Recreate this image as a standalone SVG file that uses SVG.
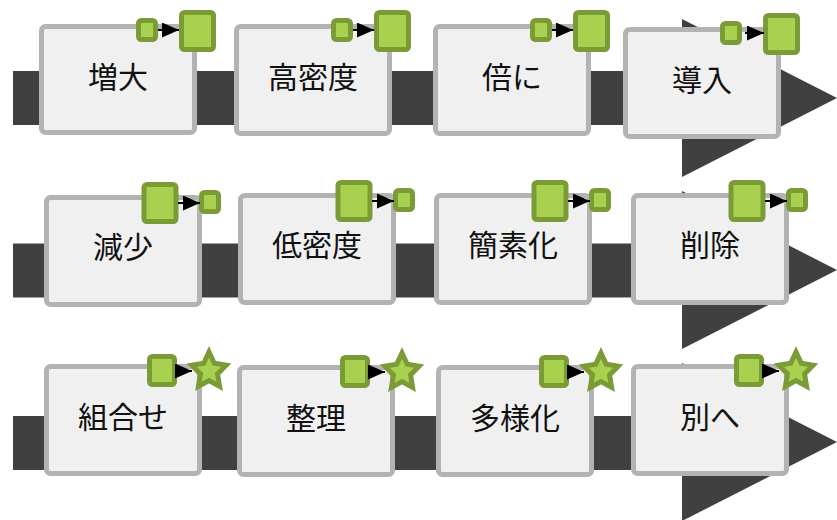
<svg xmlns="http://www.w3.org/2000/svg" width="837" height="520" viewBox="0 0 837 520">
<style>
.band{fill:#404040}
.box{fill:#f0f0f0;stroke:#b3b3b3;stroke-width:5}
.sq{fill:#a8d150;stroke:#7a9b36;stroke-width:5}
.star{fill:#a8d150;stroke:#7a9b36;stroke-width:5;stroke-linejoin:miter}
.lbl{font-family:"Noto Sans CJK JP","Noto Sans CJK SC",sans-serif;font-size:30px;fill:#111;text-anchor:middle}
.conn{stroke:#000;stroke-width:2;fill:none;marker-end:url(#ah)}
</style>
<defs>
<marker id="ah" markerUnits="userSpaceOnUse" viewBox="0 0 17 15" markerWidth="17" markerHeight="15" refX="17" refY="7.5" orient="auto">
<path d="M0,0 L17,7.5 L0,15 Z" fill="#000"/>
</marker>
<path id="starp" d="M0,-19 L5.29,-7.69 L17.12,-5.87 L8.56,2.94 L10.58,15.37 L0,9.5 L-10.58,15.37 L-8.56,2.94 L-17.12,-5.87 L-5.29,-7.69 Z"/>
</defs>
<g id="background">
<rect class="band" x="13" y="71" width="672" height="54"/>
<rect class="band" x="13" y="243.5" width="672" height="54"/>
<rect class="band" x="13" y="416" width="672" height="54"/>
<polygon class="band" points="682,19 837,98 682,177"/>
<polygon class="band" points="682,191 837,270 682,349"/>
<polygon class="band" points="682,363 837,442 682,521"/>
</g>
<g id="n1" transform="translate(39,24)"><rect class="box" x="2.5" y="2.5" width="153" height="106" rx="4"/><text class="lbl" x="79" y="64">増大</text><rect class="sq" x="99.5" y="-3.5" width="17" height="19" rx="3"/><rect class="sq" x="142.5" y="-11.5" width="32" height="37" rx="3"/></g>
<g id="n2" transform="translate(234,24)"><rect class="box" x="2.5" y="2.5" width="153" height="107" rx="4"/><text class="lbl" x="79" y="64">高密度</text><rect class="sq" x="99.5" y="-3.5" width="17" height="19" rx="3"/><rect class="sq" x="142.5" y="-11.5" width="32" height="37" rx="3"/></g>
<g id="n3" transform="translate(433,24)"><rect class="box" x="2.5" y="2.5" width="153" height="107" rx="4"/><text class="lbl" x="79" y="64">倍に</text><rect class="sq" x="99.5" y="-3.5" width="17" height="19" rx="3"/><rect class="sq" x="142.5" y="-11.5" width="32" height="37" rx="3"/></g>
<g id="n4" transform="translate(623,27)"><rect class="box" x="2.5" y="2.5" width="153" height="107" rx="4"/><text class="lbl" x="79" y="64">導入</text><rect class="sq" x="99.5" y="-3.5" width="17" height="19" rx="3"/><rect class="sq" x="142.5" y="-11.5" width="32" height="37" rx="3"/></g>
<g id="n5" transform="translate(44,195)"><rect class="box" x="2.5" y="2.5" width="153" height="107" rx="4"/><text class="lbl" x="79" y="63">減少</text><rect class="sq" x="100" y="-10.5" width="32" height="37" rx="3"/><rect class="sq" x="157.5" y="-2.5" width="17" height="19" rx="3"/></g>
<g id="n6" transform="translate(238,193)"><rect class="box" x="2.5" y="2.5" width="153" height="107" rx="4"/><text class="lbl" x="79" y="63">低密度</text><rect class="sq" x="100" y="-10.5" width="32" height="37" rx="3"/><rect class="sq" x="157.5" y="-2.5" width="17" height="19" rx="3"/></g>
<g id="n7" transform="translate(434,193)"><rect class="box" x="2.5" y="2.5" width="153" height="107" rx="4"/><text class="lbl" x="79" y="63">簡素化</text><rect class="sq" x="100" y="-10.5" width="32" height="37" rx="3"/><rect class="sq" x="157.5" y="-2.5" width="17" height="19" rx="3"/></g>
<g id="n8" transform="translate(631,193)"><rect class="box" x="2.5" y="2.5" width="153" height="107" rx="4"/><text class="lbl" x="79" y="63">削除</text><rect class="sq" x="100" y="-10.5" width="32" height="37" rx="3"/><rect class="sq" x="157.5" y="-2.5" width="17" height="19" rx="3"/></g>
<g id="n9" transform="translate(44,364)"><rect class="box" x="2.5" y="2.5" width="153" height="107" rx="4"/><text class="lbl" x="79" y="64">組合せ</text><rect class="sq" x="105.5" y="-7.5" width="25" height="28" rx="3"/><use href="#starp" class="star" x="165" y="7"/></g>
<g id="n10" transform="translate(237,365)"><rect class="box" x="2.5" y="2.5" width="153" height="107" rx="4"/><text class="lbl" x="79" y="64">整理</text><rect class="sq" x="105.5" y="-7.5" width="25" height="28" rx="3"/><use href="#starp" class="star" x="165" y="7"/></g>
<g id="n11" transform="translate(436,365)"><rect class="box" x="2.5" y="2.5" width="153" height="107" rx="4"/><text class="lbl" x="79" y="64">多様化</text><rect class="sq" x="105.5" y="-7.5" width="25" height="28" rx="3"/><use href="#starp" class="star" x="165" y="7"/></g>
<g id="n12" transform="translate(631,364)"><rect class="box" x="2.5" y="2.5" width="153" height="107" rx="4"/><text class="lbl" x="79" y="64">別へ</text><rect class="sq" x="105.5" y="-7.5" width="25" height="28" rx="3"/><use href="#starp" class="star" x="165" y="7"/></g>
<g id="connectors">
<line class="conn" x1="158" y1="30" x2="179" y2="30"/>
<line class="conn" x1="353" y1="30" x2="374" y2="30"/>
<line class="conn" x1="552" y1="30" x2="573" y2="30"/>
<line class="conn" x1="745" y1="33" x2="764" y2="33"/>
<line class="conn" x1="178" y1="203" x2="200" y2="203"/>
<line class="conn" x1="372" y1="201" x2="394" y2="201"/>
<line class="conn" x1="568" y1="201" x2="590" y2="201"/>
<line class="conn" x1="765" y1="201" x2="787" y2="201"/>
<line class="conn" x1="176" y1="371" x2="192" y2="371"/>
<line class="conn" x1="369" y1="372" x2="385" y2="372"/>
<line class="conn" x1="568" y1="372" x2="584" y2="372"/>
<line class="conn" x1="763" y1="371" x2="779" y2="371"/>
</g>
</svg>
